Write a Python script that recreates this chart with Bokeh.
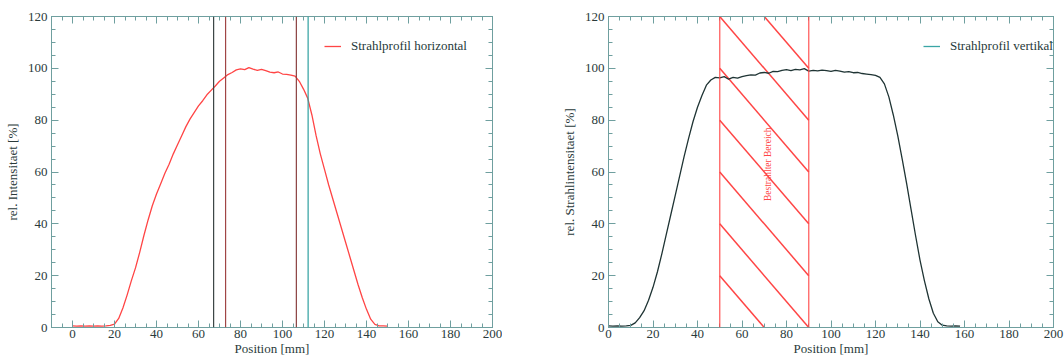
import numpy as np
from bokeh.plotting import figure
from bokeh.layouts import row
from bokeh.models import (LinearAxis, FixedTicker, Span, Legend, LegendItem, Range1d,
                          CustomLabelingPolicy)
from bokeh.core.properties import value
from bokeh.embed import file_html
from bokeh.resources import INLINE

# ---------------- data ----------------
h_pos = list(range(0, 152, 2))
h_int = [0.6, 0.5, 0.6, 0.5, 0.6, 0.5, 0.6, 0.5, 0.6, 0.8,
         1.3, 3.5, 7.5, 12.5, 18, 23, 29, 35.5, 41.5, 47,
         51.5, 55.5, 59.5, 63, 67, 70.5, 74, 77.5, 80.5, 83,
         85.5, 87.5, 89.8, 91.5, 93.2, 95, 96.3, 97.6, 98.4, 99.4,
         99.8, 99.5, 100.3, 99.7, 99.2, 99.6, 99.1, 98.5, 98.3, 98.6,
         97.8, 97.7, 97.4, 97.0, 95, 92, 88.5, 82, 74, 67,
         61, 55, 49.5, 44, 38.5, 33, 27.5, 22, 16.5, 11.5,
         7, 3.2, 1.2, 0.6, 0.6, 0.5]

v_pos = list(range(0, 160, 2))
v_int = [0.6, 0.5, 0.6, 0.5, 0.6, 0.8, 1.8, 3.8, 6.5, 10.5,
         15.5, 21.5, 28.5, 36, 43.5, 51, 58.5, 66, 73, 79.5,
         85, 89.5, 93.5, 95.5, 96.5, 96.3, 96.8, 95.8, 96.5, 96.2,
         96.8, 97.2, 97.5, 97.4, 98.2, 98.4, 98.1, 98.8, 98.7, 99.2,
         99.5, 99.1, 99.6, 99.4, 99.9, 98.9, 99.2, 99.0, 99.3, 99.1,
         98.8, 99.2, 98.9, 98.5, 98.7, 98.3, 98.4, 98.0, 97.8, 97.6,
         97.3, 96.5, 94, 89, 82, 74, 65, 55.5, 45.5, 35.5,
         26, 18, 11, 5.5, 2.2, 0.9, 0.6, 0.5, 0.6, 0.5]

h_markers = [67.2, 72.9, 106.6, 112.2]
region = [50, 90]
region_label = "Bestrahlter Bereich"
x_major = list(range(0, 201, 20))
y_major = list(range(0, 121, 20))

# ---------------- style ----------------
FONT = "Liberation Serif"
AX = "#6f9f9f"
TXT = "#2a3a3a"
RED = "#ff4545"
marker_colors = ["#3a4444", "#a04545", "#8a4040", "#2f9f9f"]


def style_axis(ax):
    ax.axis_line_color = AX
    ax.major_tick_line_color = AX
    ax.minor_tick_line_color = AX
    ax.major_tick_in = 7
    ax.major_tick_out = 0
    ax.minor_tick_in = 4
    ax.minor_tick_out = 0
    ax.major_label_text_font = FONT
    ax.major_label_text_font_size = "13px"
    ax.major_label_text_color = TXT
    ax.axis_label_text_font = FONT
    ax.axis_label_text_font_size = "13px"
    ax.axis_label_text_font_style = "normal"
    ax.axis_label_text_color = TXT


def make_fig(width, bl, br, x_start, xlabel, ylabel):
    p = figure(width=width, height=359, x_range=Range1d(x_start, 200), y_range=Range1d(0, 120),
               output_backend="svg", toolbar_location=None,
               min_border_left=bl, min_border_right=br, min_border_top=16, min_border_bottom=32)
    p.grid.visible = False
    p.outline_line_color = AX
    p.border_fill_color = "white"
    xt = FixedTicker(ticks=x_major, minor_ticks=list(range(x_start, 201, 5)))
    yt = FixedTicker(ticks=y_major, minor_ticks=list(range(0, 121, 5)))
    xb = p.xaxis[0]
    yl = p.yaxis[0]
    xb.ticker = xt
    yl.ticker = yt
    xb.axis_label = xlabel
    yl.axis_label = ylabel
    for ax in (xb, yl):
        style_axis(ax)
    xb.major_label_standoff = 2
    xb.axis_label_standoff = 0
    yl.major_label_standoff = 4
    yl.axis_label_standoff = 5
    top = LinearAxis(ticker=xt)
    right = LinearAxis(ticker=yt)
    for ax in (top, right):
        style_axis(ax)
        ax.major_label_text_font_size = "1px"
        ax.major_label_standoff = 0
        ax.major_label_policy = CustomLabelingPolicy(code="return []")
    p.add_layout(top, "above")
    p.add_layout(right, "right")
    return p


def add_legend(p, renderer, label, loc):
    leg = Legend(items=[LegendItem(label=label, renderers=[renderer])], location=loc,
                 border_line_color=None, background_fill_alpha=0,
                 label_text_font=FONT, label_text_font_size="13px", label_text_color="#1f3a3a",
                 glyph_width=17, glyph_height=14, label_height=14, label_standoff=10,
                 padding=0, margin=0, spacing=0)
    p.add_layout(leg)


# ---------------- left ----------------
p1 = make_fig(502, 51, 10, -10, "Position [mm]", "rel. Intensitaet [%]")
for xm, c in zip(h_markers, marker_colors):
    p1.add_layout(Span(location=xm, dimension="height", line_color=c, line_width=1.2))
r1 = p1.line(h_pos, h_int, line_color=RED, line_width=1.3)
add_legend(p1, r1, "Strahlprofil horizontal", (273, 273))

# ---------------- right ----------------
p2 = make_fig(562, 106, 11, 0, "Position [mm]", "rel. Strahlintensitaet [%]")
for xr in region:
    p2.add_layout(Span(location=xr, dimension="height", line_color=RED, line_width=1.3, line_alpha=0.85))
# hatch lines of slope -1 (data units), spaced 20 along y at region start
x0s, y0s, x1s, y1s = [], [], [], []
for c in range(20, 161, 20):
    xa = max(region[0], region[0] + c - 120)
    xb_ = min(region[1], region[0] + c)
    if xb_ <= xa:
        continue
    x0s.append(xa); y0s.append(c - (xa - region[0]))
    x1s.append(xb_); y1s.append(c - (xb_ - region[0]))
p2.segment(x0s, y0s, x1s, y1s, line_color=RED, line_width=1.5)
p2.text(x=[(region[0] + region[1]) / 2 + 1.5], y=[63], text=[region_label], angle=np.pi / 2,
        text_font=value(FONT), text_font_size="9.5px", text_color=RED,
        text_align="center", text_baseline="middle")
r2 = p2.line(v_pos, v_int, line_color="#1f3434", line_width=1.3)
# legend swatch only (lies outside the visible range)
dummy = p2.line([-60, -50], [-60, -60], line_color="#3aa5a5", line_width=1.3)
add_legend(p2, dummy, "Strahlprofil vertikal", (315, 273))

layout = row(p1, p2)
open("out.html", "w").write(file_html(layout, INLINE))
